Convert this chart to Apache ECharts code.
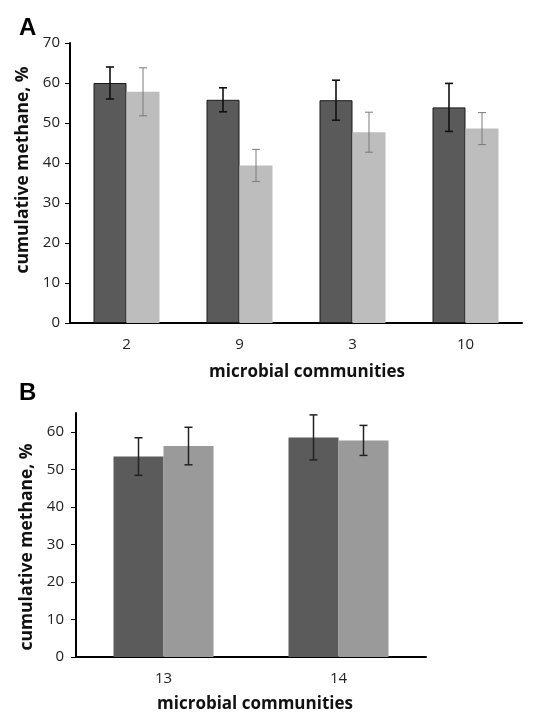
<!DOCTYPE html>
<html>
<head>
<meta charset="utf-8">
<script src="https://cdn.jsdelivr.net/npm/echarts@6/dist/echarts.min.js"></script>
<style>
  html, body { margin: 0; padding: 0; background: #fff; }
  #chart { width: 543px; height: 714px; }
</style>
</head>
<body>
<div id="chart"></div>
<script>
// panel A
const catsA = ['2', '9', '3', '10']
const darkA = [60, 55.8, 55.7, 53.9]
const darkErrA = [4, 3, 5, 6]
const lightA = [57.8, 39.4, 47.7, 48.6]
const lightErrA = [6, 4, 5, 4]

// panel B
const catsB = ['13', '14']
const darkB = [53.4, 58.5]
const darkErrB = [5, 6]
const lightB = [56.2, 57.7]
const lightErrB = [5, 4]

const yTicksA = [0, 10, 20, 30, 40, 50, 60, 70]
const yTicksB = [0, 10, 20, 30, 40, 50, 60]

const font = 'Open Sans, Lato, sans-serif'

const chart = echarts.init(document.getElementById('chart'))

// error bar drawn around a bar, offset = shift from category centre in px
const errorSeries = (xi, yi, vals, errs, offset, color, width) => ({
  type: 'custom',
  xAxisIndex: xi,
  yAxisIndex: yi,
  z: 5,
  data: vals.map((v, i) => [i, v - errs[i], v + errs[i]]),
  renderItem: (params, api) => {
    const lo = api.coord([api.value(0), api.value(1)])
    const hi = api.coord([api.value(0), api.value(2)])
    const x = lo[0] + offset
    const cap = 4
    const style = { stroke: color, lineWidth: width }
    return {
      type: 'group',
      children: [
        { type: 'line', shape: { x1: x, y1: lo[1], x2: x, y2: hi[1] }, style },
        { type: 'line', shape: { x1: x - cap, y1: lo[1], x2: x + cap, y2: lo[1] }, style },
        { type: 'line', shape: { x1: x - cap, y1: hi[1], x2: x + cap, y2: hi[1] }, style }
      ]
    }
  }
})

const xAxisBase = (idx, cats, gap, pad) => ({
  type: 'category',
  gridIndex: idx,
  data: cats,
  name: 'microbial communities',
  nameLocation: 'middle',
  nameGap: gap,
  nameTextStyle: { fontFamily: font, fontSize: 17, fontWeight: 'bold', color: '#111', padding: [0, 0, 0, pad] },
  axisLine: { lineStyle: { color: '#000', width: 2 } },
  axisTick: { length: 6, lineStyle: { color: '#000', width: 1 } },
  axisLabel: { fontFamily: font, fontSize: 15, color: '#222', margin: 14 }
})

const yAxisBase = (idx, max, ticks, margin, pad) => ({
  type: 'value',
  gridIndex: idx,
  min: 0,
  max: max,
  interval: 10,
  name: 'cumulative methane, %',
  nameLocation: 'middle',
  nameGap: 32,
  nameTextStyle: { fontFamily: font, fontSize: 17.5, fontWeight: 'bold', color: '#111', padding: pad },
  axisLine: { show: true, lineStyle: { color: '#000', width: 2 } },
  axisTick: { show: true, length: 5, customValues: ticks, lineStyle: { color: '#000', width: 1 } },
  axisLabel: { fontFamily: font, fontSize: 15, color: '#222', margin: margin, customValues: ticks },
  splitLine: { show: false }
})

const option = {
  backgroundColor: '#fff',
  animation: false,
  title: [
    { text: 'A', left: 14, top: 11, textStyle: { fontFamily: 'Liberation Sans, Arial', fontSize: 24, fontWeight: 'bold', color: '#000' } },
    { text: 'B', left: 14, top: 376, textStyle: { fontFamily: 'Liberation Sans, Arial', fontSize: 24, fontWeight: 'bold', color: '#000' } }
  ],
  grid: [
    { left: 70, right: 21, top: 43, bottom: 391 },
    { left: 76, width: 350, top: 413, bottom: 56 }
  ],
  xAxis: [xAxisBase(0, catsA, 41, 22), xAxisBase(1, catsB, 39, 8)],
  yAxis: [yAxisBase(0, 70, yTicksA, 10, [0, 0, 0, 26]), yAxisBase(1, 65, yTicksB, 12, [0, 24, 0, 0])],
  series: [
    {
      type: 'bar', xAxisIndex: 0, yAxisIndex: 0, data: darkA, barWidth: 33, barGap: '0%',
      itemStyle: { color: '#5a5a5a', borderColor: '#1a1a1a', borderWidth: 1 }
    },
    {
      type: 'bar', xAxisIndex: 0, yAxisIndex: 0, data: lightA, barWidth: 33, barGap: '0%',
      itemStyle: { color: '#bdbdbd' }
    },
    errorSeries(0, 0, darkA, darkErrA, -16.5, '#111', 1.6),
    errorSeries(0, 0, lightA, lightErrA, 16.5, '#7a7a7a', 1),
    {
      type: 'bar', xAxisIndex: 1, yAxisIndex: 1, data: darkB, barWidth: 50, barGap: '0%',
      itemStyle: { color: '#5b5b5b' }
    },
    {
      type: 'bar', xAxisIndex: 1, yAxisIndex: 1, data: lightB, barWidth: 50, barGap: '0%',
      itemStyle: { color: '#9a9a9a' }
    },
    errorSeries(1, 1, darkB, darkErrB, -25, '#222', 1.5),
    errorSeries(1, 1, lightB, lightErrB, 25, '#222', 1.5)
  ]
}

chart.setOption(option)
</script>
</body>
</html>
